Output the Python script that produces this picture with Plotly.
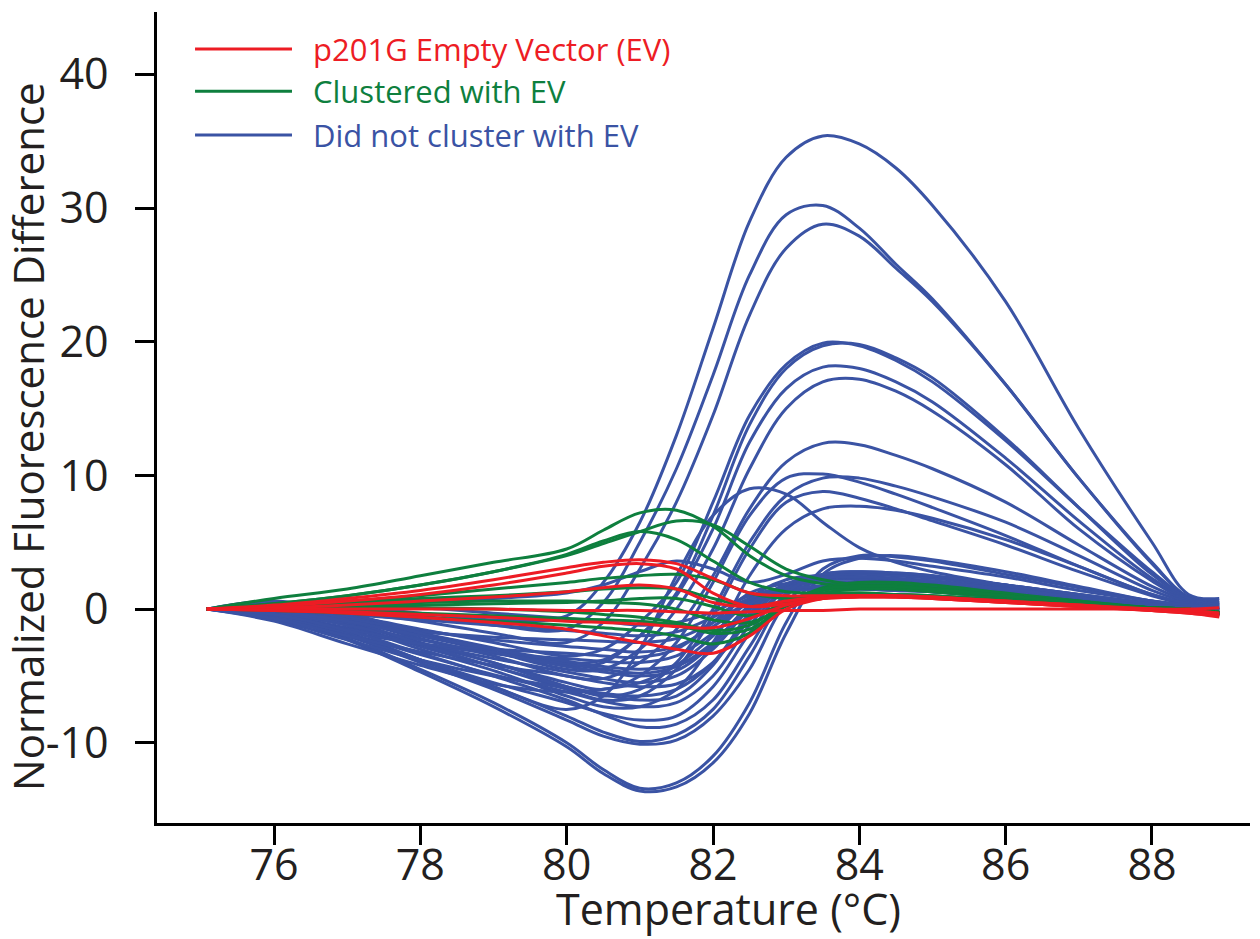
import plotly.graph_objects as go

# Temperature grid (°C) shared by every melt-difference curve
temperature = [75.08, 76, 77, 78, 79, 80, 80.5, 81, 81.5, 82, 82.5, 83, 83.5, 84,
               84.5, 85, 86, 87, 88, 88.5, 88.92]

# "Did not cluster with EV" curves
blue_01 = [0, 0.3, 0.2, -0.3, -0.8, -0.5, 2.0, 6.5, 13.0, 21.0, 29.0, 33.8, 35.4, 34.8, 33.0, 30.2, 23.0, 13.5, 5.0, 1.1, 0.8]
blue_02 = [0, 0.2, 0, -0.5, -1.2, -1.5, 0.5, 5.0, 10.5, 17.5, 25.0, 29.5, 30.2, 28.5, 25.8, 23.2, 16.8, 9.8, 3.5, 0.9, 0.6]
blue_03 = [0, 0.1, -0.3, -0.9, -1.8, -2.5, -1.0, 3.0, 8.0, 14.5, 22.0, 27.0, 28.8, 27.9, 25.5, 23.0, 16.8, 9.8, 3.4, 0.9, 0.5]
blue_04 = [0, 0, -0.5, -1.5, -2.5, -3.5, -3.0, -1.0, 2.0, 8.0, 14.5, 18.3, 19.9, 19.7, 18.6, 17.0, 12.6, 7.6, 2.8, 0.8, 0.4]
blue_05 = [0, -0.1, -0.7, -1.8, -2.9, -4.0, -3.8, -2.0, 1.2, 7.0, 13.8, 18.0, 19.7, 19.8, 18.8, 17.3, 12.8, 7.6, 2.6, 0.8, 0.3]
blue_06 = [0, 0, -0.6, -1.8, -3.0, -4.2, -4.0, -2.0, 1.0, 6.0, 12.5, 16.5, 18.1, 18.0, 17.0, 15.5, 11.3, 6.6, 2.3, 0.7, 0.3]
blue_07 = [0, -0.1, -0.8, -2.0, -3.2, -4.5, -4.5, -3.0, 0, 4.5, 10.5, 15.0, 17.0, 17.2, 16.3, 14.8, 10.8, 6.0, 2.1, 0.6, 0.2]
blue_08 = [0, -0.1, -0.8, -2.2, -3.5, -5.0, -5.2, -4.0, -1.5, 2.5, 7.5, 11.0, 12.4, 12.3, 11.5, 10.5, 8.0, 4.8, 1.7, 0.6, 0.1]
blue_09 = [0, -0.2, -1.0, -2.5, -4.0, -5.5, -6.0, -5.0, -2.5, 2.0, 7.0, 9.8, 10.1, 9.5, 8.6, 7.6, 5.5, 3.2, 1.1, 0.4, 0]
blue_10 = [0, -0.2, -1.0, -2.6, -4.0, -5.8, -6.5, -6.0, -4.0, 0, 5.0, 8.5, 9.8, 9.8, 9.2, 8.4, 6.5, 4.0, 1.4, 0.5, 0]
blue_11 = [0, -0.4, -1.8, -3.8, -5.8, -7.5, -6.5, -3.0, 2.5, 7.0, 9.0, 8.6, 6.5, 4.6, 3.5, 2.8, 1.8, 1.0, 0.3, 0, -0.3]
blue_12 = [0, -0.2, -1.2, -2.8, -4.3, -6.0, -6.8, -6.5, -4.5, -0.5, 4.5, 8.0, 8.8, 8.3, 7.5, 6.6, 4.8, 2.8, 1.0, 0.3, -0.1]
blue_13 = [0, -0.2, -1.2, -3.0, -4.6, -6.5, -7.3, -7.3, -6.0, -2.5, 2.5, 6.0, 7.5, 7.7, 7.4, 6.8, 5.2, 3.2, 1.1, 0.4, 0]
blue_14 = [0, -0.5, -2.2, -4.5, -7.0, -10.0, -12.0, -13.4, -13.0, -11.0, -7.0, -1.0, 3.0, 4.0, 3.9, 3.6, 2.6, 1.6, 0.6, 0.2, -0.2]
blue_15 = [0, -0.5, -2.3, -4.7, -7.3, -10.3, -12.3, -13.6, -13.3, -11.5, -7.8, -1.8, 2.6, 3.8, 4.0, 3.7, 2.8, 1.7, 0.6, 0.2, -0.3]
blue_16 = [0, -0.4, -1.8, -3.8, -5.8, -8.0, -9.2, -9.9, -9.4, -7.5, -3.5, 1.0, 2.6, 2.8, 2.7, 2.5, 1.8, 1.1, 0.4, 0.1, -0.3]
blue_17 = [0, -0.5, -2.0, -4.0, -6.0, -8.3, -9.5, -10.1, -9.8, -8.0, -4.5, 0.5, 2.4, 2.7, 2.6, 2.4, 1.8, 1.1, 0.4, 0.1, -0.3]
blue_18 = [0, -0.6, -2.0, -3.8, -5.5, -7.0, -7.8, -8.3, -8.0, -5.8, -1.8, 1.5, 2.3, 2.4, 2.3, 2.1, 1.6, 1.0, 0.4, 0.1, -0.3]
blue_19 = [0, -0.5, -1.8, -3.4, -4.9, -6.2, -6.9, -7.3, -7.0, -5.0, -1.2, 1.5, 2.2, 2.2, 2.1, 1.9, 1.4, 0.8, 0.3, 0, -0.4]
blue_20 = [0, -0.8, -2.3, -3.8, -5.0, -5.9, -6.3, -6.5, -6.0, -4.0, -0.5, 1.6, 2.3, 2.4, 2.2, 2.0, 1.5, 0.9, 0.3, 0, -0.4]
blue_21 = [0, -0.4, -1.4, -2.6, -3.7, -4.7, -5.2, -5.5, -5.0, -3.0, 0, 1.8, 2.3, 2.3, 2.1, 1.9, 1.4, 0.8, 0.3, 0, -0.4]
blue_22 = [0, -0.3, -1.2, -2.3, -3.3, -4.1, -4.5, -4.8, -4.3, -2.5, 0.2, 1.6, 2.0, 2.0, 1.9, 1.7, 1.3, 0.7, 0.3, 0, -0.4]
blue_23 = [0, -0.5, -1.5, -2.6, -3.3, -3.7, -3.9, -4.0, -3.5, -1.8, 0.6, 1.7, 2.0, 2.0, 1.9, 1.7, 1.2, 0.7, 0.2, 0, -0.4]
blue_24 = [0, -0.2, -0.8, -1.6, -2.3, -2.8, -3.0, -3.2, -2.8, -1.3, 0.5, 1.4, 1.7, 1.7, 1.6, 1.4, 1.0, 0.6, 0.2, 0, -0.4]
blue_25 = [0, -0.3, -1.0, -1.7, -2.1, -2.3, -2.4, -2.5, -2.2, -1.0, 0.5, 1.3, 1.5, 1.5, 1.4, 1.3, 0.9, 0.5, 0.1, -0.1, -0.4]
blue_26 = [0, -0.9, -2.6, -4.2, -5.6, -6.2, -6.0, -5.5, -4.2, -2.0, 0.8, 2.2, 2.5, 2.4, 2.2, 2.0, 1.4, 0.8, 0.3, 0, -0.4]
blue_27 = [0, 0.6, -0.3, -1.8, -3.2, -4.3, -4.7, -5.0, -4.6, -2.6, 0.3, 1.7, 2.0, 2.0, 1.9, 1.7, 1.2, 0.7, 0.3, 0, -0.4]
blue_28 = [0, 0.5, -0.8, -2.6, -4.3, -5.8, -6.4, -6.8, -6.5, -4.2, -0.3, 1.8, 2.4, 2.4, 2.3, 2.1, 1.5, 0.9, 0.3, 0, -0.4]
blue_29 = [0, -0.6, -1.7, -2.6, -3.0, -3.3, -3.5, -3.6, -3.0, -1.0, 1.2, 1.9, 2.0, 1.9, 1.8, 1.6, 1.1, 0.6, 0.2, 0, -0.4]
blue_30 = [0, -0.1, -0.4, -0.8, -1.2, -1.6, -1.8, -2.0, -1.7, -0.6, 0.8, 1.5, 1.6, 1.5, 1.4, 1.3, 0.9, 0.5, 0.1, 0, -0.4]
blue_31 = [0, 0.3, 0.3, 0.1, -0.3, -0.7, -0.9, -1.2, -1.0, -0.2, 1.0, 1.6, 1.7, 1.6, 1.5, 1.3, 0.9, 0.5, 0.1, 0, -0.4]
blue_32 = [0, -0.7, -2.0, -3.2, -4.2, -5.0, -5.5, -5.8, -5.6, -4.0, -0.8, 1.8, 2.6, 2.6, 2.5, 2.3, 1.7, 1.0, 0.4, 0.1, -0.3]
blue_33 = [0, -0.2, -0.9, -2.0, -3.0, -3.9, -4.3, -4.5, -4.2, -2.8, 0, 1.9, 2.4, 2.4, 2.3, 2.1, 1.5, 0.9, 0.3, 0, -0.4]
blue_34 = [0, -0.4, -1.6, -3.3, -5.0, -6.8, -7.9, -8.8, -8.6, -6.8, -2.8, 1.2, 2.6, 2.8, 2.7, 2.5, 1.8, 1.1, 0.4, 0.1, -0.3]
blue_35 = [0, 0.2, 0.4, 0.6, 0.8, 1.2, 1.8, 2.8, 3.6, 3.0, 2.0, 2.6, 3.6, 3.8, 3.6, 3.2, 2.4, 1.4, 0.6, 0.3, 0]

# "Clustered with EV" curves
green_01 = [0, 0.8, 1.5, 2.5, 3.5, 4.5, 5.9, 7.2, 7.4, 6.2, 4.0, 2.5, 1.9, 1.7, 1.5, 1.3, 0.9, 0.5, 0.1, 0, -0.2]
green_02 = [0, 0.4, 1.0, 1.8, 2.8, 4.0, 4.9, 5.8, 6.6, 6.3, 4.7, 3.0, 2.2, 1.8, 1.6, 1.4, 1.0, 0.5, 0.1, 0, -0.3]
green_03 = [0, 0.4, 1.0, 1.8, 2.8, 4.1, 5.1, 5.8, 5.2, 3.6, 2.0, 1.3, 1.2, 1.2, 1.1, 1.0, 0.7, 0.4, 0.1, 0, -0.3]
green_04 = [0, 0.2, 0.6, 1.0, 1.5, 2.0, 2.3, 2.5, 2.6, 2.2, 1.2, 0.8, 1.0, 1.1, 1.0, 0.9, 0.6, 0.3, 0, -0.1, -0.3]
green_05 = [0, 0.2, 0.5, 0.8, 1.0, 1.3, 1.5, 1.6, 1.5, 0.8, 0.2, 0.6, 1.1, 1.2, 1.1, 1.0, 0.7, 0.3, 0, -0.1, -0.3]
green_06 = [0, 0.1, 0.3, 0.5, 0.6, 0.6, 0.5, 0.4, 0.0, -0.8, -1.0, 0.2, 1.2, 1.5, 1.5, 1.3, 0.9, 0.5, 0.1, 0, -0.3]
green_07 = [0, 0, -0.1, -0.3, -0.5, -0.7, -0.8, -0.9, -1.2, -1.8, -1.5, 0.3, 1.5, 1.8, 1.8, 1.6, 1.1, 0.6, 0.1, 0, -0.3]
green_08 = [0, -0.1, -0.3, -0.6, -0.9, -1.2, -1.4, -1.6, -2.0, -2.6, -1.8, 0.3, 1.6, 2.0, 2.0, 1.8, 1.2, 0.6, 0.1, 0, -0.3]
green_09 = [0, 0.1, 0.2, 0.3, 0.4, 0.5, 0.6, 0.8, 0.8, 0.2, -0.5, 0.5, 1.4, 1.6, 1.6, 1.4, 1.0, 0.5, 0.1, 0, -0.3]
green_10 = [0, 0, 0.1, 0.1, 0.0, -0.2, -0.4, -0.6, -1.0, -1.6, -1.2, 0.4, 1.5, 1.7, 1.7, 1.5, 1.0, 0.5, 0.1, 0, -0.3]

# "p201G Empty Vector (EV)" curves
red_01 = [0, 0.3, 0.8, 1.4, 2.2, 3.1, 3.5, 3.7, 3.4, 2.3, 1.2, 1.0, 1.0, 1.0, 0.9, 0.8, 0.5, 0.2, 0, -0.1, -0.3]
red_02 = [0, 0.2, 0.6, 1.1, 1.8, 2.7, 3.2, 3.4, 3.0, 1.2, 0.2, 0.4, 0.8, 0.9, 0.9, 0.8, 0.5, 0.2, -0.1, -0.2, -0.4]
red_03 = [0, 0.1, 0.3, 0.6, 0.9, 1.3, 1.6, 1.8, 1.5, 0.5, 0.2, 0.6, 0.9, 1.0, 1.0, 0.9, 0.6, 0.3, 0, -0.1, -0.3]
red_04 = [0, 0, 0, 0, 0, -0.1, -0.1, -0.1, -0.2, -0.3, -0.2, -0.1, -0.1, 0, 0, 0, 0, 0, 0, 0, 0.1]
red_05 = [0, -0.1, -0.2, -0.4, -0.6, -0.9, -1.0, -1.1, -1.3, -1.4, -0.7, 0.3, 0.8, 0.9, 0.9, 0.8, 0.5, 0.2, -0.1, -0.3, -0.5]
red_06 = [0, -0.1, -0.3, -0.6, -1.0, -1.5, -2.0, -2.5, -3.0, -3.3, -2.0, 0, 0.8, 1.0, 1.0, 0.9, 0.6, 0.3, -0.1, -0.3, -0.6]

blue_curves = [blue_01, blue_02, blue_03, blue_04, blue_05, blue_06, blue_07, blue_08,
               blue_09, blue_10, blue_11, blue_12, blue_13, blue_14, blue_15, blue_16,
               blue_17, blue_18, blue_19, blue_20, blue_21, blue_22, blue_23, blue_24,
               blue_25, blue_26, blue_27, blue_28, blue_29, blue_30, blue_31, blue_32,
               blue_33, blue_34, blue_35]
green_curves = [green_01, green_02, green_03, green_04, green_05, green_06, green_07,
                green_08, green_09, green_10]
red_curves = [red_01, red_02, red_03, red_04, red_05, red_06]

group_names = ["p201G Empty Vector (EV)", "Clustered with EV", "Did not cluster with EV"]
x_ticks = [76, 78, 80, 82, 84, 86, 88]
y_ticks = [-10, 0, 10, 20, 30, 40]
y_tick_text = ["-10", "0", "10", "20", "30", "40"]

RED, GREEN, BLUE = "#ED1C24", "#0E7F3E", "#3A53A4"
INK = "#231F20"
FONT = "Open Sans"

fig = go.Figure()

# blue underneath, then green, red on top
for curves, color, name in [(blue_curves, BLUE, group_names[2]),
                            (green_curves, GREEN, group_names[1]),
                            (red_curves, RED, group_names[0])]:
    for ys in curves:
        fig.add_trace(go.Scatter(
            x=temperature, y=ys, mode="lines", name=name, showlegend=False,
            line=dict(color=color, width=3, shape="spline", smoothing=1.0),
            hoverinfo="skip"))

# legend drawn as short line samples with coloured labels
legend_rows = [(group_names[0], RED, 0.9545), (group_names[1], GREEN, 0.9023),
               (group_names[2], BLUE, 0.8483)]
for label, color, yp in legend_rows:
    fig.add_shape(type="line", xref="paper", yref="paper",
                  x0=0.0348, x1=0.1235, y0=yp, y1=yp,
                  line=dict(color=color, width=3))
    fig.add_annotation(xref="paper", yref="paper", x=0.141, y=yp,
                       xanchor="left", yanchor="middle", showarrow=False,
                       text=label, font=dict(family=FONT, size=31, color=color))

# axis titles
fig.add_annotation(xref="paper", yref="paper", x=0.523, y=-0.106,
                   xanchor="center", yanchor="middle", showarrow=False,
                   text="Temperature (°C)", font=dict(family=FONT, size=43, color=INK))
fig.add_annotation(xref="paper", yref="paper", x=-0.118, y=0.476,
                   xanchor="center", yanchor="middle", showarrow=False, textangle=-90,
                   text="Normalized Fluorescence Difference",
                   font=dict(family=FONT, size=42, color=INK))

axis_common = dict(showline=True, linecolor="black", linewidth=2.5,
                   ticks="outside", ticklen=19, tickwidth=2.5, tickcolor="black",
                   showgrid=False, zeroline=False, automargin=False,
                   tickfont=dict(family=FONT, size=43, color=INK))

fig.update_layout(
    width=1260, height=939,
    margin=dict(l=157, r=10, t=12, b=116),
    paper_bgcolor="white", plot_bgcolor="white",
    showlegend=False,
    xaxis=dict(range=[74.40, 89.34], tickvals=x_ticks, ticklabelstandoff=-16,
               **axis_common),
    yaxis=dict(range=[-16.0, 44.67], tickvals=y_ticks, ticktext=y_tick_text,
               ticklabelstandoff=18, **axis_common),
)

fig.write_html("out.html")
